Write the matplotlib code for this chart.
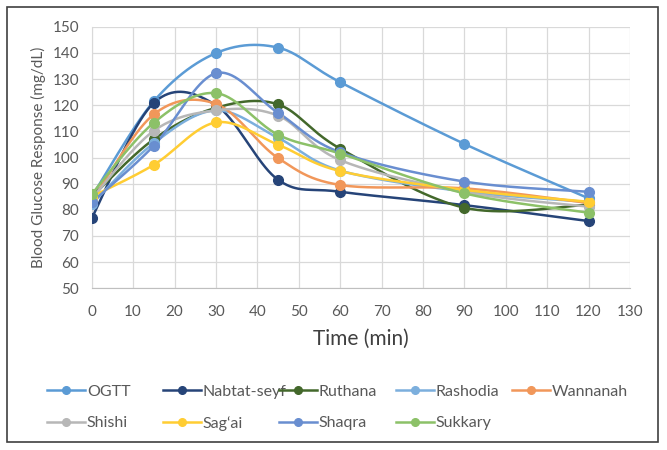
import numpy as np
import matplotlib
matplotlib.use("Agg")
import matplotlib.pyplot as plt
from matplotlib.lines import Line2D
from matplotlib.patches import Rectangle

plt.rcParams['font.family'] = ['Lato', 'DejaVu Sans']

times = [0, 15, 30, 45, 60, 90, 120]
series_names = ["OGTT", "Nabtat-seyf", "Ruthana", "Rashodia", "Wannanah",
                "Shishi", "Sag\u2018ai", "Shaqra", "Sukkary"]
ogtt = [85, 121.5, 139.9, 142.0, 128.8, 105.2, 84.4]
nabtat_seyf = [76.8, 120.9, 120.0, 91.5, 86.9, 81.8, 75.7]
ruthana = [85, 107.0, 119.0, 120.3, 103.4, 80.8, 82.0]
rashodia = [82.2, 105.5, 118.0, 107.5, 95.0, 87.0, 83.0]
wannanah = [83.3, 116.5, 120.5, 99.8, 89.5, 88.2, 82.6]
shishi = [84.2, 110.2, 118.0, 116.0, 99.0, 86.8, 81.2]
sagai = [85.0, 97.2, 113.4, 104.9, 94.8, 87.6, 83.1]
shaqra = [82.8, 104.5, 132.2, 117.1, 102.0, 90.8, 86.9]
sukkary = [86.0, 113.3, 124.6, 108.7, 101.5, 86.3, 78.9]
series_values = [ogtt, nabtat_seyf, ruthana, rashodia, wannanah,
                 shishi, sagai, shaqra, sukkary]
colors = ["#5B9BD5", "#264478", "#43682B", "#7CAFDD", "#F1975A",
          "#B7B7B7", "#FFCD33", "#698ED0", "#8CC168"]

x_ticks = list(range(0, 131, 10))
y_ticks = list(range(50, 151, 10))


def smooth(xs, ys, n=40):
    xs = np.asarray(xs, float)
    ys = np.asarray(ys, float)
    P = np.column_stack([xs, ys])
    out = [P[0]]
    m = len(P)
    t = np.linspace(0, 1, n)[1:]
    for i in range(m - 1):
        p0 = P[i - 1] if i > 0 else P[i]
        p3 = P[i + 2] if i + 2 < m else P[i + 1]
        b0 = P[i]
        b3 = P[i + 1]
        b1 = b0 + (b3 - p0) / 6.0
        b2 = b3 - (p3 - b0) / 6.0
        tt = t[:, None]
        seg = ((1 - tt) ** 3) * b0 + 3 * ((1 - tt) ** 2) * tt * b1 + \
            3 * (1 - tt) * tt ** 2 * b2 + tt ** 3 * b3
        out.extend(seg)
    out = np.array(out)
    return out[:, 0], out[:, 1]


fig = plt.figure(figsize=(6.67, 4.5), dpi=100)
ax = fig.add_axes([91.7 / 667, 1 - 288.3 / 450, (630 - 91.7) / 667, (288.3 - 26.7) / 450])

for name, vals, c in zip(series_names, series_values, colors):
    sx, sy = smooth(times, vals)
    ax.plot(sx, sy, color=c, lw=1.8, solid_capstyle='round', zorder=3)
    ax.plot(times, vals, ls='none', marker='o', ms=7, color=c, zorder=4)

ax.set_xlim(0, 130)
ax.set_ylim(50, 150)
ax.set_xticks(x_ticks)
ax.set_yticks(y_ticks)
ax.grid(True, color="#D9D9D9", lw=0.9)
ax.set_axisbelow(True)
for s in ax.spines.values():
    s.set_visible(False)
ax.spines['bottom'].set_visible(True)
ax.spines['bottom'].set_color("#BFBFBF")
ax.spines['left'].set_visible(True)
ax.spines['left'].set_color("#D9D9D9")
ax.tick_params(axis='x', length=0, labelsize=11, colors="#595959", pad=12)
ax.tick_params(axis='y', length=0, labelsize=11, colors="#595959", pad=9)
ax.set_xlabel("Time (min)", fontsize=15, color="#404040", labelpad=7)
ax.set_ylabel("Blood Glucose Response (mg/dL)", fontsize=11, color="#595959", labelpad=5)

# legend: uniform grid of entries, 5 columns x 2 rows
col_x = [47, 163, 279, 396, 512]
row_y = [391.7, 423.3]
ncol = 5
for k, (name, c) in enumerate(zip(series_names, colors)):
    ri, ci = divmod(k, ncol)
    h = Line2D([], [], color=c, lw=1.8, marker='o', ms=5.5)
    fig.legend([h], [name], loc='center left',
               bbox_to_anchor=(col_x[ci] / 667, 1 - row_y[ri] / 450),
               frameon=False, fontsize=11.5, handlelength=2.35, handletextpad=0.15,
               borderpad=0, borderaxespad=0, labelcolor="#595959")

fig.patches.append(Rectangle((7 / 667, 1 - 442 / 450), (658 - 7) / 667, (442 - 7) / 450,
                             transform=fig.transFigure, fill=False, edgecolor="#404040", lw=1.2))

fig.savefig("out.png", dpi=100)
